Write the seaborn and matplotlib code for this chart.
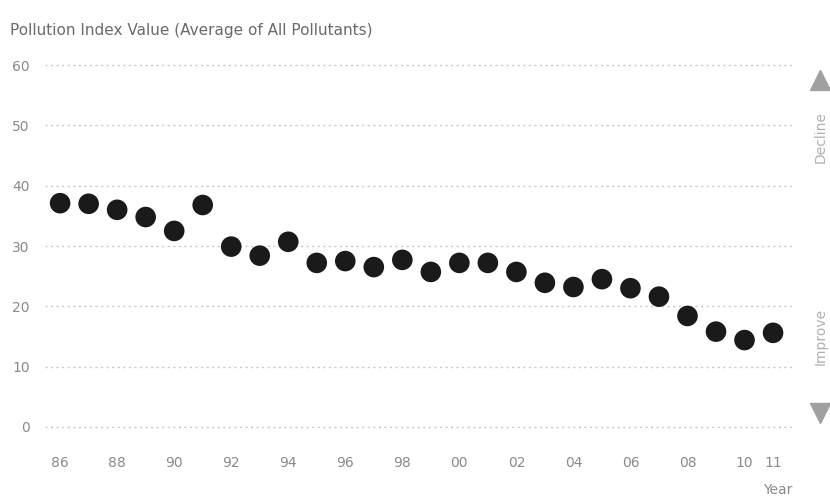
import numpy as np
import matplotlib.pyplot as plt
from matplotlib.lines import Line2D
import pandas as pd
import seaborn as sns

years = list(range(1986, 2012))
values = [37.1, 37.0, 36.0, 34.8, 32.5, 36.8, 29.9, 28.4, 30.7, 27.2, 27.5, 26.5, 27.7,
          25.7, 27.2, 27.2, 25.7, 23.9, 23.2, 24.5, 23.0, 21.6, 18.4, 15.8, 14.4, 15.6]
tick_years = [1986, 1988, 1990, 1992, 1994, 1996, 1998, 2000, 2002, 2004, 2006, 2008, 2010, 2011]
tick_labels = ['86', '88', '90', '92', '94', '96', '98', '00', '02', '04', '06', '08', '10', '11']
y_ticks = [0, 10, 20, 30, 40, 50, 60]

df = pd.DataFrame({'year': years, 'value': values})

sns.set_style('white')
plt.rcParams['font.family'] = ['DejaVu Sans']

fig = plt.figure(figsize=(8.3, 4.97), dpi=100)
ax = fig.add_axes([45 / 830, 1 - 445 / 497, 750 / 830, 398 / 497])

# dotted gridlines
for v in y_ticks:
    ax.axhline(v, color='#c8c8c8', linestyle=(0, (1.5, 2.5)), linewidth=1.0, zorder=0)

sns.scatterplot(data=df, x='year', y='value', ax=ax, s=220, color='#1a1a1a',
                edgecolor='none', legend=False, zorder=3)

ax.set_xlim(1985.47, 2011.77)
ax.set_ylim(-3, 63)
ax.set_xticks(tick_years)
ax.set_xticklabels(tick_labels)
ax.set_yticks(y_ticks)
ax.tick_params(axis='both', length=0, labelsize=10, labelcolor='#8a8a8a')
ax.tick_params(axis='y', pad=11)
ax.tick_params(axis='x', pad=8)
ax.set_xlabel('')
ax.set_ylabel('')
for sp in ax.spines.values():
    sp.set_visible(False)

fig.text(10 / 830, 1 - 30 / 497, 'Pollution Index Value (Average of All Pollutants)',
         fontsize=11, color='#6a6a6a', va='center', ha='left')
fig.text(792 / 830, 1 - 490 / 497, 'Year', fontsize=10, color='#8a8a8a',
         ha='right', va='center')

# Decline / Improve markers on the right side
fig.add_artist(Line2D([820 / 830], [1 - 80 / 497], marker='^', markersize=15,
                      color='#a0a0a0', transform=fig.transFigure))
fig.add_artist(Line2D([820 / 830], [1 - 413 / 497], marker='v', markersize=15,
                      color='#a0a0a0', transform=fig.transFigure))
fig.text(821 / 830, 1 - 137 / 497, 'Decline', rotation=90, fontsize=10,
         color='#b0b0b0', ha='center', va='center')
fig.text(821 / 830, 1 - 336 / 497, 'Improve', rotation=90, fontsize=10,
         color='#b0b0b0', ha='center', va='center')

fig.savefig('out.png', dpi=100)
